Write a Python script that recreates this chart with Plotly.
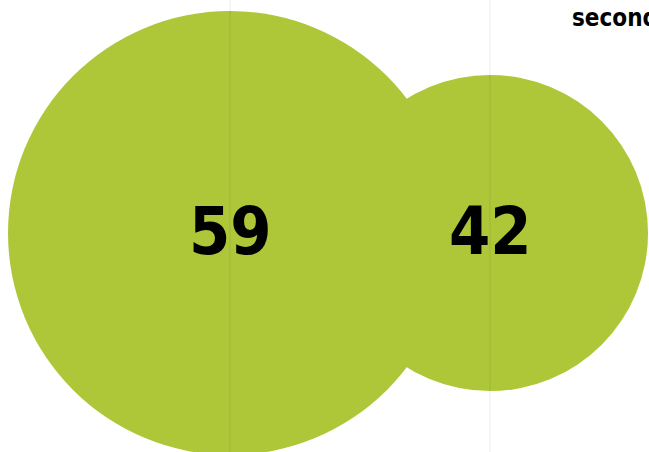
import plotly.graph_objects as go

categories = [0, 1]
values = [59, 42]
labels = ["59", "42"]
legend_label = "second"

fig = go.Figure()
fig.add_trace(go.Scatter(
    x=categories, y=[0, 0],
    mode="markers",
    marker=dict(size=values, sizemode="diameter", sizeref=59 / 444,
                color="rgb(173,199,56)", opacity=1, line=dict(width=0)),
    showlegend=False,
    hoverinfo="skip",
))

# value labels in the middle of each bubble
for c, lab in zip(categories, labels):
    fig.add_annotation(x=c, y=0, text=lab, showarrow=False, yshift=2,
                       font=dict(family="DejaVu Sans Condensed", size=66, color="black",
                                 weight="bold"))

# faint grid lines drawn over the bubbles
for c in categories:
    fig.add_shape(type="line", xref="x", yref="paper", x0=c, x1=c, y0=0, y1=1,
                  layer="above", line=dict(color="rgba(0,0,0,0.07)", width=1))

fig.add_annotation(
    x=570 / 649, y=1, xref="paper", yref="paper", text=legend_label,
    showarrow=False, xanchor="left", yanchor="top", yshift=-2,
    font=dict(family="DejaVu Sans Condensed", size=24, color="black", weight="bold"),
)

fig.update_layout(
    width=649, height=452,
    margin=dict(l=0, r=0, t=0, b=0),
    plot_bgcolor="white", paper_bgcolor="white",
    xaxis=dict(range=[-230 / 260, 1 + 159 / 260], showgrid=False,
               zeroline=False, showticklabels=False, ticks=""),
    yaxis=dict(range=[-219 / 233, 1], visible=False),
)
fig.write_html("out.html", config={"displayModeBar": False},
               post_script="document.body.style.margin='0';")
